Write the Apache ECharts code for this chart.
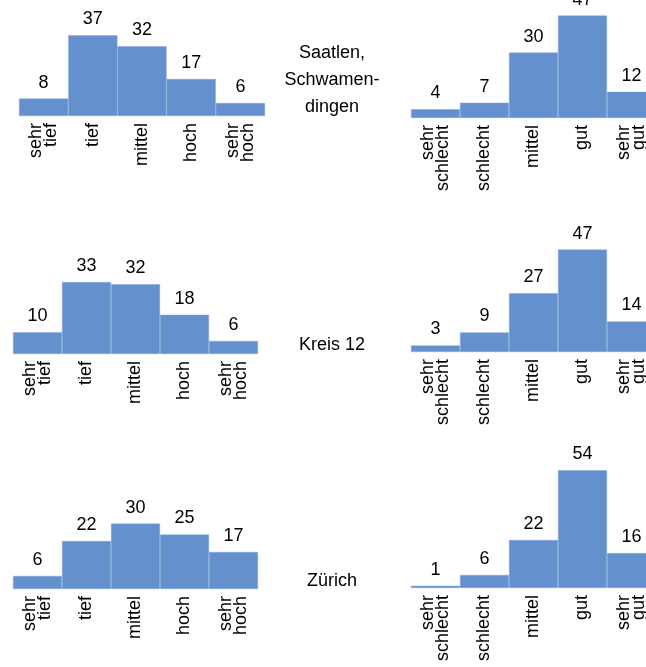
<!DOCTYPE html>
<html>
<head>
<meta charset="utf-8">
<script src="https://cdn.jsdelivr.net/npm/echarts@6/dist/echarts.min.js"></script>
<style>
html,body{margin:0;padding:0;background:#fff;overflow:hidden;width:646px;height:667px;}
#c{width:680px;height:667px;}
</style>
</head>
<body>
<div id="c"></div>
<script>
var categoriesLevel = ['sehr\ntief', 'tief', 'mittel', 'hoch', 'sehr\nhoch'];
var categoriesQuality = ['sehr\nschlecht', 'schlecht', 'mittel', 'gut', 'sehr\ngut'];
var regions = ['Saatlen,\nSchwamen-\ndingen', 'Kreis 12', 'Zürich'];
var levelSaatlen = [8, 37, 32, 17, 6];
var qualitySaatlen = [4, 7, 30, 47, 12];
var levelKreis12 = [10, 33, 32, 18, 6];
var qualityKreis12 = [3, 9, 27, 47, 14];
var levelZuerich = [6, 22, 30, 25, 17];
var qualityZuerich = [1, 6, 22, 54, 16];

var FONT = '"Liberation Sans", Arial, sans-serif';
var BAR = '#6490CD';
var H = 109;
var panels = [
  {left: 19, width: 246, base: 116, cats: categoriesLevel, data: levelSaatlen},
  {left: 411, width: 245, base: 118, cats: categoriesQuality, data: qualitySaatlen},
  {left: 13, width: 245, base: 354, cats: categoriesLevel, data: levelKreis12},
  {left: 411, width: 245, base: 352, cats: categoriesQuality, data: qualityKreis12},
  {left: 13, width: 245, base: 589, cats: categoriesLevel, data: levelZuerich},
  {left: 411, width: 245, base: 588, cats: categoriesQuality, data: qualityZuerich}
];
var regionY = [80, 345, 581];

var grid = [], xAxis = [], yAxis = [], series = [];
panels.forEach(function (p, i) {
  grid.push({left: p.left, width: p.width, top: p.base - H, height: H, containLabel: false});
  xAxis.push({
    type: 'category', gridIndex: i, data: p.cats,
    axisLine: {show: false}, axisTick: {show: false},
    axisLabel: {rotate: 90, margin: 7, color: '#000', fontSize: 18, lineHeight: 15, fontFamily: FONT, interval: 0}
  });
  yAxis.push({type: 'value', gridIndex: i, min: 0, max: 50, show: false, splitLine: {show: false}});
  series.push({
    type: 'bar', xAxisIndex: i, yAxisIndex: i, data: p.data,
    barCategoryGap: '0%', clip: false,
    itemStyle: {color: BAR, borderColor: '#86a8da', borderWidth: 0.5},
    label: {show: true, position: 'top', distance: 7, color: '#000', fontSize: 18, fontFamily: FONT},
    animation: false
  });
});

var graphic = regions.map(function (r, i) {
  return {
    type: 'text', x: 332, y: regionY[i],
    style: {text: r, textAlign: 'center', textVerticalAlign: 'middle', font: '18px ' + FONT, lineHeight: 27, fill: '#000'}
  };
});

var chart = echarts.init(document.getElementById('c'), null, {renderer: 'canvas'});
chart.setOption({
  animation: false,
  grid: grid, xAxis: xAxis, yAxis: yAxis, series: series, graphic: graphic
});
</script>
</body>
</html>
